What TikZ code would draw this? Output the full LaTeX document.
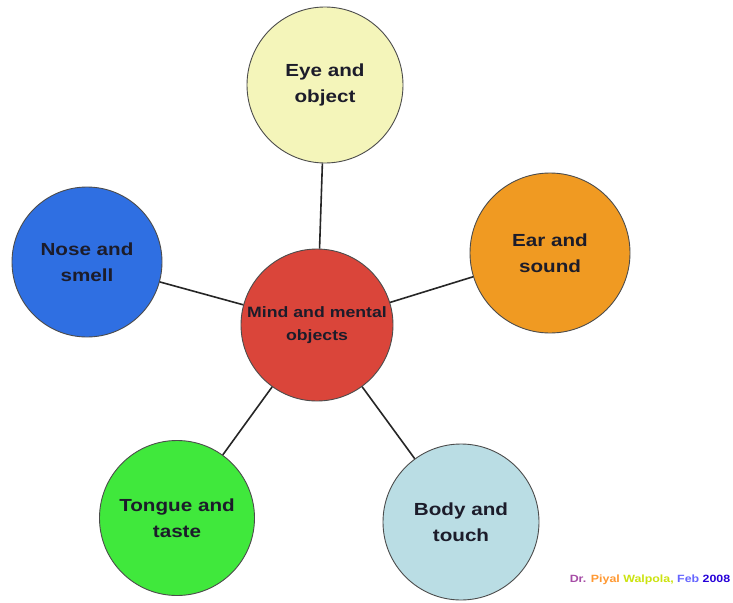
\documentclass[tikz,border=0pt]{standalone}
\usepackage{fontspec}
\setmainfont[FakeStretch=1.18]{Liberation Sans}
\usetikzlibrary{positioning}
\definecolor{eyecol}{HTML}{F4F5BA}
\definecolor{nosecol}{HTML}{2F6FE2}
\definecolor{earcol}{HTML}{F09A22}
\definecolor{mindcol}{HTML}{DA453A}
\definecolor{tonguecol}{HTML}{40E83C}
\definecolor{bodycol}{HTML}{BADDE4}
\definecolor{inkcol}{HTML}{1C1C2A}
\tikzset{sense/.style={circle, draw=black!70, line width=0.9pt, minimum size=#1, inner sep=0pt, align=center, text=inkcol, font=\bfseries\fontsize{17.5}{26}\selectfont}}
\tikzset{sense/.default=155pt}
\tikzset{link/.style={draw=black!85, line width=1.6pt}}

\begin{document}
\begin{tikzpicture}[x=1pt, y=-1pt]
            \useasboundingbox[fill=white] (0, 0) rectangle (733, 602);
            \node[sense=152pt, fill=mindcol, font=\bfseries\fontsize{15}{23}\selectfont] (mind) at (317, 325) {Mind and mental\\objects};
            \node[sense=156pt, fill=eyecol] (eye) at (325, 85) {Eye and\\object};
            \node[sense=150pt, fill=nosecol] (nose) at (87, 262) {Nose and\\smell};
            \node[sense=160pt, fill=earcol] (ear) at (550, 253) {Ear and\\sound};
            \node[sense=155pt, fill=tonguecol] (tongue) at (177, 518) {Tongue and\\taste};
            \node[sense=156pt, fill=bodycol] (body) at (461, 522) {Body and\\touch};
            \draw[link] (mind) -- (eye);
            \draw[link] (mind) -- (nose);
            \draw[link] (mind) -- (ear);
            \draw[link] (mind) -- (tongue);
            \draw[link] (mind) -- (body);
            \node[font=\bfseries\fontsize{10.5}{12}\selectfont, inner sep=0pt] (sign) at (650, 580) {\textcolor{violet!70}{Dr.} \textcolor{orange!80}{Piyal} \textcolor{yellow!80!green}{Walpola,} \textcolor{blue!60}{Feb} \textcolor{blue!70!violet}{2008}};
        \end{tikzpicture}
\end{document}
